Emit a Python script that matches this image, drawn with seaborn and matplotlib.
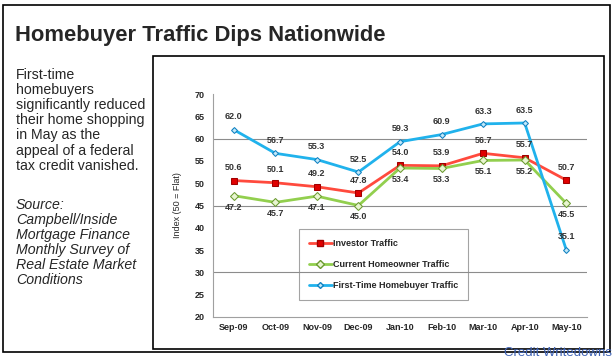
import seaborn as sns
import pandas as pd
import matplotlib.pyplot as plt
from matplotlib.patches import Rectangle
from matplotlib.lines import Line2D

months = ['Sep-09', 'Oct-09', 'Nov-09', 'Dec-09', 'Jan-10', 'Feb-10', 'Mar-10', 'Apr-10', 'May-10']
investor = [50.6, 50.1, 49.2, 47.8, 54.0, 53.9, 56.7, 55.7, 50.7]
current_owner = [47.2, 45.7, 47.1, 45.0, 53.4, 53.3, 55.1, 55.2, 45.5]
first_time = [62.0, 56.7, 55.3, 52.5, 59.3, 60.9, 63.3, 63.5, 35.1]

series_names = ['Investor Traffic', 'Current Homeowner Traffic', 'First-Time Homebuyer Traffic']

df = pd.DataFrame({'month': months * 3,
                   'value': investor + current_owner + first_time,
                   'series': [n for n in series_names for _ in months]})

palette = {'Investor Traffic': '#ff4a3d',
           'Current Homeowner Traffic': '#92cf4e',
           'First-Time Homebuyer Traffic': '#20b2ec'}
markers = {'Investor Traffic': 's',
           'Current Homeowner Traffic': 'D',
           'First-Time Homebuyer Traffic': 'D'}

sns.set_style('white')
plt.rcParams['font.family'] = ['Liberation Sans', 'DejaVu Sans']

W, H = 615, 364
fig = plt.figure(figsize=(W / 100, H / 100), dpi=100)

# frames
fig.add_artist(Rectangle((3 / W, 1 - 352 / H), 607 / W, 347 / H, transform=fig.transFigure,
                         fill=False, edgecolor='k', linewidth=1.2))
fig.add_artist(Rectangle((153 / W, 1 - 349 / H), 451 / W, 293 / H, transform=fig.transFigure,
                         fill=False, edgecolor='k', linewidth=1.2))

fig.text(15 / W, 1 - 36 / H, 'Homebuyer Traffic Dips Nationwide', fontsize=15.8,
         fontweight='bold', va='center', ha='left')

body = ('First-time\nhomebuyers\nsignificantly reduced\ntheir home shopping\n'
        'in May as the\nappeal of a federal\ntax credit vanished.')
fig.text(16 / W, 1 - 68 / H, body, fontsize=10.2, va='top', ha='left', linespacing=1.1)
source = ('Source:\nCampbell/Inside\nMortgage Finance\nMonthly Survey of\n'
          'Real Estate Market\nConditions')
fig.text(16 / W, 1 - 198 / H, source, fontsize=10.2, style='italic', va='top', ha='left',
         linespacing=1.1)

fig.text(1 - 3 / W, 1 - 353 / H, 'Credit Writedowns', fontsize=9.5, color='#3f63b5',
         ha='right', va='center')

ax = fig.add_axes([213 / W, 1 - 317 / H, 374 / W, 223 / H])
for y in [30, 45, 60]:
    ax.axhline(y, color='#8c8c8c', linewidth=0.8, zorder=0)

sns.lineplot(data=df, x='month', y='value', hue='series', style='series',
             palette=palette, markers=markers, dashes=False, linewidth=2,
             markersize=4.5, markeredgecolor=None, ax=ax, sort=False, legend=False)

# marker fills
for line, name in zip(ax.get_lines()[-3:], series_names):
    if name == 'Investor Traffic':
        line.set_markerfacecolor('#e00000')
        line.set_markeredgecolor('#a00000')
    elif name == 'Current Homeowner Traffic':
        line.set_markerfacecolor('#e8f5d0')
        line.set_markeredgecolor('#6a9a30')
        line.set_markersize(4)
    else:
        line.set_markerfacecolor('#c0e8fa')
        line.set_markeredgecolor('#1080c0')
        line.set_markersize(3)

label_kw = dict(fontsize=6.5, fontweight='bold', color='#333333', ha='center')
for i, v in enumerate(investor):
    ax.annotate(f'{v:.1f}', (i, v), xytext=(0, 6), textcoords='offset points', va='bottom', **label_kw)
for i, v in enumerate(current_owner):
    ax.annotate(f'{v:.1f}', (i, v), xytext=(0, -5), textcoords='offset points', va='top', **label_kw)
for i, v in enumerate(first_time):
    ax.annotate(f'{v:.1f}', (i, v), xytext=(0, 6), textcoords='offset points', va='bottom', **label_kw)

ax.set_xlim(-0.5, 8.5)
ax.set_ylim(20, 70)
ax.set_yticks(range(20, 71, 5))
ax.set_yticklabels([str(t) for t in range(20, 71, 5)], fontsize=6.5, fontweight='bold')
ax.set_xticks(range(len(months)))
ax.set_xticklabels(months, fontsize=6.5, fontweight='bold')
ax.set_xticks([i + 0.5 for i in range(-1, 9)], minor=True)
ax.tick_params(axis='x', which='major', length=0, pad=4)
ax.tick_params(axis='x', which='minor', length=3, color='#c8c8c8', direction='in')
ax.tick_params(axis='y', length=0, pad=6)
ax.set_xlabel('')
ax.set_ylabel('Index (50 = Flat)', fontsize=6.5, labelpad=9)
for s in ['top', 'right']:
    ax.spines[s].set_visible(False)
ax.spines['left'].set_color('#a0a0a0')
ax.spines['bottom'].set_color('#a0a0a0')
ax.spines['left'].set_linewidth(0.8)
ax.spines['bottom'].set_linewidth(0.8)

handles = []
for name in series_names:
    ln = ax.get_lines()[-3 + series_names.index(name)]
    handles.append(Line2D([], [], color=palette[name], linewidth=2, marker=ln.get_marker(),
                          markerfacecolor=ln.get_markerfacecolor(),
                          markeredgecolor=ln.get_markeredgecolor(), markersize=ln.get_markersize()))
leg = ax.legend(handles, series_names, loc='upper left', bbox_to_anchor=(86 / 374, 1 - 135 / 223),
                frameon=True, fancybox=False, edgecolor='#8c8c8c', facecolor='none',
                prop={'size': 6.5, 'weight': 'bold'}, handlelength=2.5, labelspacing=1.35,
                borderpad=1.1, handletextpad=0.2, borderaxespad=0)
leg.get_frame().set_linewidth(0.8)

fig.savefig('out.png', dpi=100)
